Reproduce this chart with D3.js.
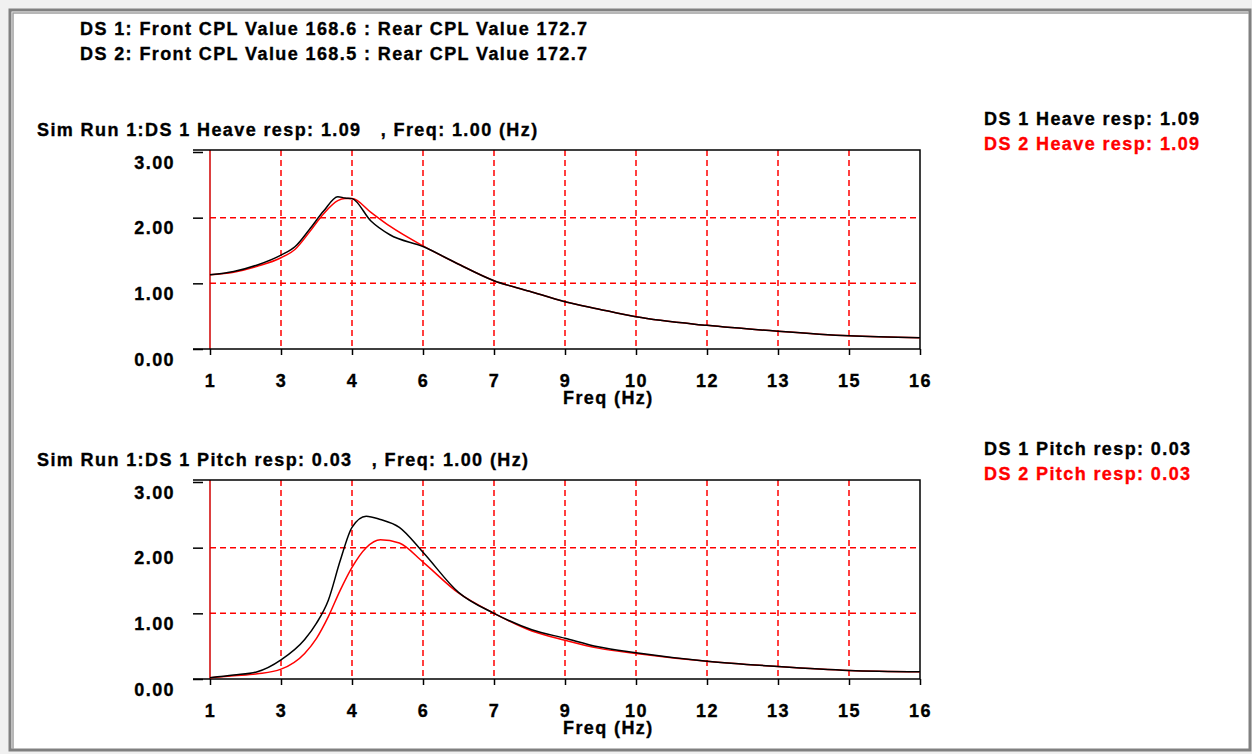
<!DOCTYPE html>
<html>
<head>
<meta charset="utf-8">
<script src="https://cdn.jsdelivr.net/npm/d3@7"></script>
<style>
  body { margin: 0; background: #f0f0f0; }
  text { font-family: "Liberation Sans", Arial, sans-serif; font-weight: bold; font-size: 18px; letter-spacing: 1.4px; white-space: pre; stroke: currentColor; stroke-width: 0.35px; }
</style>
</head>
<body>
<script>
// header values
const headerLines = [
  'DS 1: Front CPL Value 168.6 : Rear CPL Value 172.7',
  'DS 2: Front CPL Value 168.5 : Rear CPL Value 172.7'
];

// heave response (top panel)
const heaveFreq = [1, 1.5, 2, 2.5, 2.8, 3.1, 3.4, 3.7, 3.85, 4.0, 4.4, 4.8, 5.5, 6.2, 7, 7.75, 8.5, 9.2, 10, 11.5, 13, 14.5, 16];
const heaveDs1  = [1.13, 1.18, 1.28, 1.43, 1.56, 1.82, 2.10, 2.32, 2.30, 2.29, 1.95, 1.74, 1.56, 1.31, 1.04, 0.88, 0.72, 0.61, 0.49, 0.36, 0.27, 0.20, 0.17];
const heaveDs2  = [1.13, 1.17, 1.26, 1.39, 1.52, 1.78, 2.06, 2.26, 2.29, 2.29, 2.08, 1.87, 1.57, 1.31, 1.04, 0.88, 0.72, 0.61, 0.49, 0.36, 0.27, 0.20, 0.17];

// pitch response (bottom panel)
const pitchFreq = [1, 1.5, 2, 2.5, 3, 3.25, 3.5, 3.75, 4, 4.3, 4.6, 5, 5.5, 6.25, 7, 7.8, 8.5, 9.2, 10, 11.5, 13, 14.5, 16];
const pitchDs1  = [0.02, 0.06, 0.11, 0.29, 0.60, 0.85, 1.20, 1.80, 2.31, 2.48, 2.43, 2.31, 1.93, 1.32, 1.00, 0.75, 0.62, 0.49, 0.40, 0.27, 0.19, 0.13, 0.11];
const pitchDs2  = [0.02, 0.05, 0.08, 0.15, 0.39, 0.62, 0.95, 1.35, 1.70, 2.00, 2.12, 2.07, 1.78, 1.31, 1.00, 0.73, 0.59, 0.47, 0.39, 0.27, 0.19, 0.13, 0.11];

// axis ticks
const xTicks = [1, 2.5, 4, 5.5, 7, 8.5, 10, 11.5, 13, 14.5, 16];
const xTickLabels = ['1', '3', '4', '6', '7', '9', '10', '12', '13', '15', '16'];
const yTicks = [0, 1, 2, 3];
const yTickLabels = ['0.00', '1.00', '2.00', '3.00'];

const width = 1252, height = 754;

const svg = d3.select('body').append('svg')
  .attr('width', width).attr('height', height)
  .style('display', 'block');

// window frame
svg.append('rect').attr('x', 0).attr('y', 0).attr('width', width).attr('height', height).attr('fill', '#f0f0f0');
svg.append('rect').attr('x', 10).attr('y', 10).attr('width', 1240).attr('height', 740)
  .attr('fill', '#fff').attr('stroke', '#808080').attr('stroke-width', 3);
svg.append('path').attr('d', 'M13,749 L13,13 L1249,13').attr('fill', 'none').attr('stroke', '#a0a0a0').attr('stroke-width', 1.5);

svg.selectAll('.hdr')
  .data(headerLines)
  .enter().append('text')
  .attr('class', 'hdr')
  .attr('x', 80)
  .attr('y', (d, i) => 35 + i * 25)
  .text(d => d);

const x = d3.scaleLinear().domain([1, 16]).range([210, 920]);

function panel(y0, title, legend, freq, s1, s2) {
  const y = d3.scaleLinear().domain([0, 3]).range([y0, y0 - 197]);
  const g = svg.append('g');
  const top = y0 - 199;

  // title and legend
  g.append('text').attr('x', 37).attr('y', y0 - 213).text(title);
  g.selectAll('.leg')
    .data(legend)
    .enter().append('text')
    .attr('class', 'leg')
    .attr('x', 984)
    .attr('y', (d, i) => y0 - 224 + i * 25)
    .style('fill', (d, i) => i === 0 ? '#000' : '#ff0000')
    .style('stroke', (d, i) => i === 0 ? '#000' : '#ff0000')
    .text(d => d);

  // grid
  g.selectAll('.vgrid')
    .data(xTicks.slice(1, -1))
    .enter().append('line')
    .attr('x1', d => x(d)).attr('x2', d => x(d))
    .attr('y1', top).attr('y2', y0)
    .attr('stroke', '#ff0000').attr('stroke-width', 1.5).attr('stroke-dasharray', '6,4');
  g.selectAll('.hgrid')
    .data(yTicks.slice(1, -1))
    .enter().append('line')
    .attr('x1', x(1)).attr('x2', x(16))
    .attr('y1', d => y(d)).attr('y2', d => y(d))
    .attr('stroke', '#ff0000').attr('stroke-width', 1.5).attr('stroke-dasharray', '6,4');
  g.append('line')
    .attr('x1', x(1)).attr('x2', x(1)).attr('y1', top).attr('y2', y0)
    .attr('stroke', '#d00000').attr('stroke-width', 1.5);

  // frame
  g.append('path')
    .attr('d', `M193,${top} L${x(16)},${top} L${x(16)},${y0} M193,${y0} L${x(16)},${y0}`)
    .attr('fill', 'none').attr('stroke', '#000').attr('stroke-width', 1.5);

  // axes
  const xa = g.append('g')
    .attr('transform', `translate(0,${y0})`)
    .call(d3.axisBottom(x).tickValues(xTicks).tickFormat((d, i) => xTickLabels[i]).tickSize(6).tickPadding(19));
  xa.select('.domain').remove();
  xa.selectAll('line').attr('stroke-width', 1.5);
  xa.selectAll('text').attr('font-size', 18).attr('font-family', null).attr('fill', '#000');

  const ya = g.append('g')
    .attr('transform', 'translate(203,0)')
    .call(d3.axisLeft(y).tickValues(yTicks).tickFormat((d, i) => yTickLabels[i]).tickSize(10).tickPadding(18));
  ya.select('.domain').remove();
  ya.selectAll('line').attr('stroke-width', 1.5);
  ya.selectAll('text').attr('font-size', 18).attr('font-family', null).attr('dy', 16).attr('fill', '#000');

  g.append('text').attr('x', 563).attr('y', y0 + 55).text('Freq (Hz)');

  // series
  const line = d3.line()
    .x((d, i) => x(freq[i]))
    .y(d => y(d))
    .curve(d3.curveMonotoneX);
  g.append('path').datum(s2).attr('d', line)
    .attr('fill', 'none').attr('stroke', '#ff0000').attr('stroke-width', 1.5);
  g.append('path').datum(s1).attr('d', line)
    .attr('fill', 'none').attr('stroke', '#000').attr('stroke-width', 1.5);
}

panel(349, 'Sim Run 1:DS 1 Heave resp: 1.09   , Freq: 1.00 (Hz)',
  ['DS 1 Heave resp: 1.09', 'DS 2 Heave resp: 1.09'], heaveFreq, heaveDs1, heaveDs2);
panel(679, 'Sim Run 1:DS 1 Pitch resp: 0.03   , Freq: 1.00 (Hz)',
  ['DS 1 Pitch resp: 0.03', 'DS 2 Pitch resp: 0.03'], pitchFreq, pitchDs1, pitchDs2);
</script>
</body>
</html>
